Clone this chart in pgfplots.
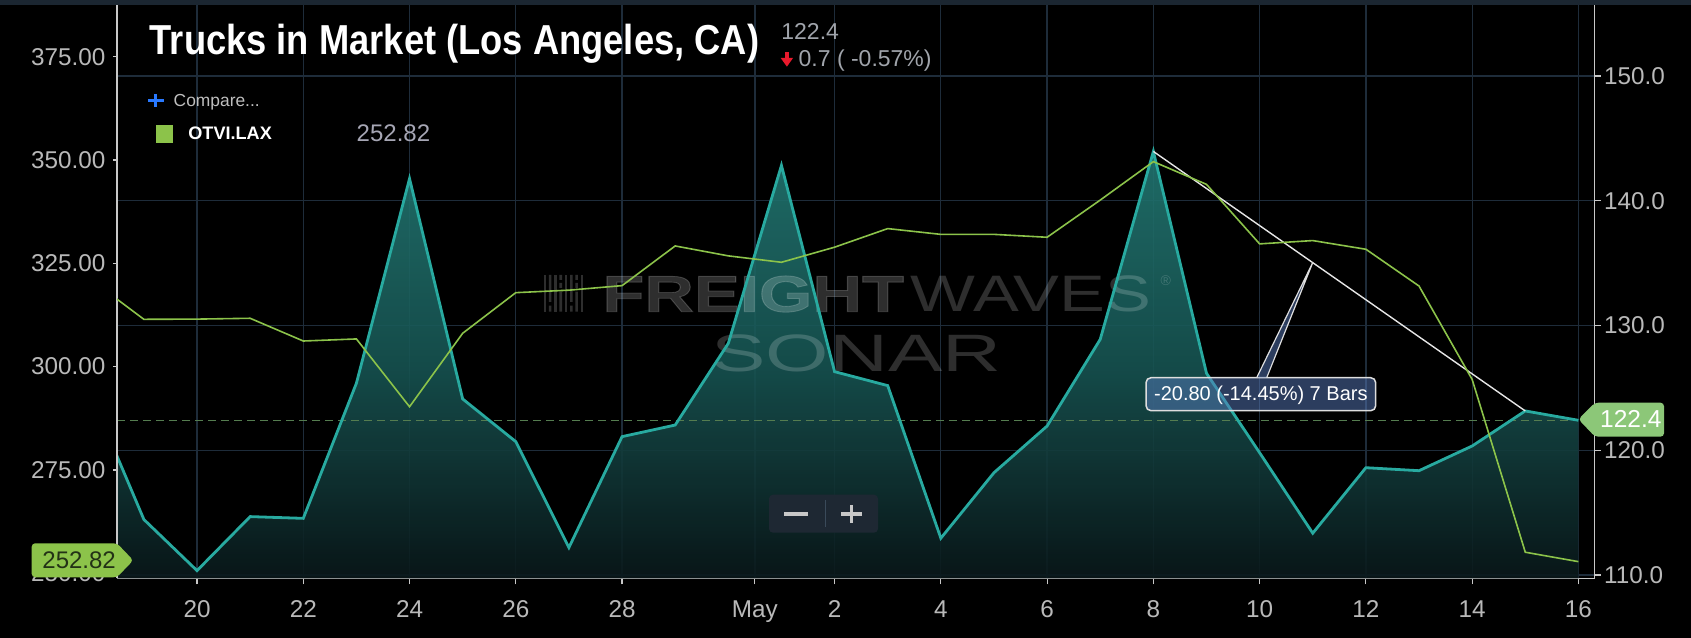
\documentclass[border=0pt]{standalone}
\usepackage{fontspec}
\setmainfont{Liberation Sans}
\newfontfamily\titlefont[FakeStretch=0.867]{Liberation Sans}
\newfontfamily\heavyfont[FakeBold=1.6]{Liberation Sans}
\usepackage{graphicx}
\usepackage{pgfplots}
\pgfplotsset{compat=1.18}
\newcommand\fs[1]{\fontsize{#1pt}{#1pt}\selectfont}
\definecolor{topband}{RGB}{27,38,49}
\definecolor{gridc}{RGB}{30,44,58}
\definecolor{axisc}{RGB}{200,200,200}
\definecolor{tickc}{RGB}{185,185,185}
\definecolor{tealline}{RGB}{40,170,160}
\definecolor{tealtop}{RGB}{34,118,113}
\definecolor{tealmid}{RGB}{23,84,82}
\definecolor{tealbot}{RGB}{10,24,26}
\definecolor{greenl}{RGB}{140,195,74}
\definecolor{dashc}{RGB}{85,125,80}
\definecolor{labright}{RGB}{140,199,120}
\definecolor{labtext}{RGB}{35,50,22}
\definecolor{callfill}{RGB}{88,122,188}
\definecolor{callline}{RGB}{222,222,222}
\definecolor{zoombox}{RGB}{30,40,51}
\definecolor{zoomsym}{RGB}{200,200,200}
\definecolor{zoomdiv}{RGB}{58,74,90}
\definecolor{legval}{RGB}{166,166,180}
\definecolor{grayone}{RGB}{160,164,171}
\definecolor{compc}{RGB}{190,190,190}
\definecolor{blueplus}{RGB}{41,121,255}
\definecolor{redarrow}{RGB}{232,25,44}
\definecolor{trendc}{RGB}{230,230,230}
\begin{document}
\begin{tikzpicture}[x=0.1mm,y=0.1mm]
\path[use as bounding box, fill=black] (0,0) rectangle (1691,638);
\fill[topband] (0,633) rectangle (1691,638);
% ---------- axis A: grid, area, bottom and right axis
\begin{axis}[
  at={(11.7mm,5.97mm)}, anchor=south west,
  scale only axis, width=147.75mm, height=57.33mm,
  xmin=18.494, xmax=46.303, ymin=109.735, ymax=155.69,
  axis x line*=bottom, axis y line*=right,
  axis line style={draw=axisc, line width=0.15mm, -},
  xtick={20,22,24,26,28,30.5,32,34,36,38,40,42,44,46},
  xticklabels={20,22,24,26,28,May,2,4,6,8,10,12,14,16},
  ytick={110,120,130,140,150},
  yticklabels={110.0,120.0,130.0,140.0,150.0},
  xmajorgrids, ymajorgrids,
  major grid style={draw=gridc, line width=0.13mm},
  tick align=outside,
  major tick length=0.6mm,
  tick style={draw=axisc, line width=0.12mm},
  ticklabel style={font=\fs{6.91}, text=tickc, inner sep=0pt},
  xticklabel style={anchor=north, yshift=-1.6mm},
  yticklabel style={anchor=west, xshift=0.3mm},
]
\addplot[draw=none, fill opacity=0.9, top color=tealtop, bottom color=tealbot, middle color=tealmid] coordinates {
(18,109.735) (18,124.5) (19,114.45) (20,110.35) (21,114.68) (22,114.54) (23,125.37) (24,141.77)
(25,124.11) (26,120.69) (27,112.2) (28,121.09) (29,122.02) (30,128.57) (31,142.83)
(32,126.30) (33,125.18) (34,112.95) (35,118.20) (36,121.94) (37,128.89) (38,143.95)
(39,126.17) (40,119.8) (41,113.35) (42,118.60) (43,118.36) (44,120.34) (45,123.15)
(46,122.4) (46,109.735)};
\end{axis}
% ---------- watermark
\begin{scope}[text opacity=0.18, fill opacity=0.18]
\foreach \bx/\pat in {543.5/0,548.8/1,554.1/0,559.4/2,564.7/0,570/1,575.3/2,580.6/0}{
  \ifnum\pat=0 \fill[white] (\bx,326.3) rectangle ++(2.6,36.7);\fi
  \ifnum\pat=1 \fill[white] (\bx,326.3) rectangle ++(2.6,6) (\bx,336) rectangle ++(2.6,27);\fi
  \ifnum\pat=2 \fill[white] (\bx,326.3) rectangle ++(2.6,20) (\bx,350) rectangle ++(2.6,5) (\bx,358) rectangle ++(2.6,5);\fi
}
\node[anchor=base west, inner sep=0, text=white] at (601.7,326.3) {\heavyfont\fs{14.59}\bfseries\scalebox{1.34}[1]{FREIGHT}};
\node[anchor=base west, inner sep=0, text=white] at (910,326.3) {\fs{14.59}\scalebox{1.34}[1]{WAVES}};
\node[anchor=base west, inner sep=0, text=white] at (1160,352) {\fs{4}\textregistered};
\node[anchor=base west, inner sep=0, text=white] at (710.7,266.3) {\fs{14.97}\scalebox{1.55}[1]{SONAR}};
\end{scope}
% ---------- axis B: teal line, dashed level, trendline
\begin{axis}[
  at={(11.7mm,5.97mm)}, anchor=south west,
  scale only axis, width=147.75mm, height=57.33mm,
  xmin=18.494, xmax=46.303, ymin=109.735, ymax=155.69,
  hide axis,
]
\addplot[draw=dashc, line width=0.14mm, dash pattern=on 0.8mm off 0.5mm] coordinates {(18.494,122.4) (46,122.4)};
\addplot[draw=tealline, line width=0.28mm] coordinates {
(18,124.5) (19,114.45) (20,110.35) (21,114.68) (22,114.54) (23,125.37) (24,141.77)
(25,124.11) (26,120.69) (27,112.2) (28,121.09) (29,122.02) (30,128.57) (31,142.83)
(32,126.30) (33,125.18) (34,112.95) (35,118.20) (36,121.94) (37,128.89) (38,143.95)
(39,126.17) (40,119.8) (41,113.35) (42,118.60) (43,118.36) (44,120.34) (45,123.15)
(46,122.4)};
\addplot[draw=trendc, line width=0.14mm] coordinates {(38,143.95) (45,123.15)};
\end{axis}
% ---------- axis C: green series on left axis
\begin{axis}[
  at={(11.7mm,5.97mm)}, anchor=south west,
  scale only axis, width=147.75mm, height=57.33mm,
  xmin=18.494, xmax=46.303, ymin=248.79, ymax=387.5,
  axis y line*=left, axis x line=none,
  axis line style={draw=axisc, line width=0.15mm, -},
  ytick={250,275,300,325,350,375},
  yticklabels={250.00,275.00,300.00,325.00,350.00,375.00},
  tick align=outside,
  major tick length=0.4mm,
  tick style={draw=axisc, line width=0.12mm},
  ticklabel style={font=\fs{6.91}, text=tickc, inner sep=0pt},
  yticklabel style={anchor=east, xshift=-0.7mm},
]
\addplot[draw=greenl, line width=0.16mm] coordinates {
(18,321.1) (19,311.45) (20,311.5) (21,311.7) (22,306.2) (23,306.7) (24,290.3)
(25,308.07) (26,317.9) (27,318.5) (28,319.6) (29,329.2) (30,326.8) (31,325.25)
(32,328.9) (33,333.4) (34,332.0) (35,332.0) (36,331.3) (37,340.3) (38,349.6)
(39,344.1) (40,329.7) (41,330.5) (42,328.4) (43,319.5) (44,296.9) (45,255.1)
(46,252.82)};
\end{axis}
% ---------- value labels
\fill[greenl, rounded corners=0.35mm] (31.7,60.7) -- (31.7,94.7) -- (117,94.7) -- (133.3,77.7) -- (117,60.7) -- cycle;
\node[anchor=base west, inner sep=0, text=labtext] at (41.7,69.7) {\fs{6.83}252.82};
\fill[labright, rounded corners=0.35mm] (1578.4,218.7) -- (1595,235.3) -- (1664,235.3) -- (1664,201.3) -- (1595,201.3) -- cycle;
\node[anchor=base west, inner sep=0, text=white] at (1599.5,210) {\fs{6.97}122.4};
% ---------- callout
\filldraw[draw=callline, fill=callfill, fill opacity=0.5, line width=0.15mm, rounded corners=0.5mm] (1146,227.3) rectangle (1375.7,260.3);
\filldraw[draw=callline, fill=callfill, fill opacity=0.5, line width=0.12mm] (1256.7,260.3) -- (1312.7,375.4) -- (1266.7,260.3);
\node[anchor=base, inner sep=0, text=white] at (1260.85,237.3) {\fs{5.69}-20.80 (-14.45\%) 7 Bars};
% ---------- zoom buttons
\fill[zoombox, rounded corners=0.4mm] (769,105.3) rectangle (878,143.3);
\draw[zoomsym, line width=0.35mm] (784,124.2) -- (808,124.2);
\draw[zoomsym, line width=0.35mm] (841,124) -- (862,124) (851.5,115) -- (851.5,133);
\draw[zoomdiv, line width=0.12mm] (825.5,111.3) -- (825.5,138);
% ---------- title block
\node[anchor=base west, inner sep=0, text=white] at (149,583) {\titlefont\bfseries\fs{11.92}Trucks in Market (Los Angeles, CA)};
\node[anchor=base west, inner sep=0, text=grayone] at (780.7,598.7) {\fs{6.54}122.4};
\fill[redarrow] (784.9,586.3) rectangle (788.9,578);
\fill[redarrow] (780.7,580) -- (793,580) -- (786.9,571.3) -- cycle;
\node[anchor=base west, inner sep=0, text=grayone] at (798,571.3) {\fs{6.54}0.7 ( -0.57\%)};
% ---------- legend
\draw[blueplus, line width=0.3mm] (148,537.5) -- (163.6,537.5) (155.8,531) -- (155.8,544);
\node[anchor=base west, inner sep=0, text=compc] at (173,531.3) {\fs{4.95}Compare...};
\fill[greenl] (156,495.3) rectangle (173.4,513);
\node[anchor=base west, inner sep=0, text=white] at (187.7,498) {\fs{5.15}\bfseries OTVI.LAX};
\node[anchor=base west, inner sep=0, text=legval] at (356,496.3) {\fs{6.83}252.82};
\end{tikzpicture}
\end{document}
